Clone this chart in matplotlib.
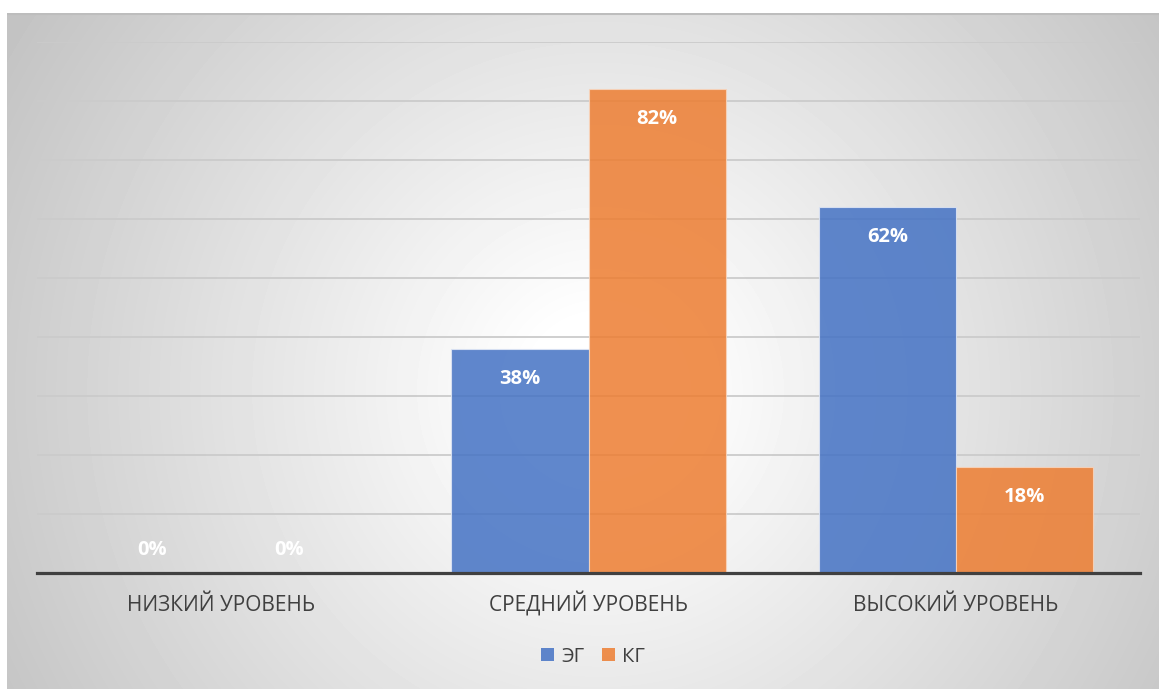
import numpy as np
import matplotlib.pyplot as plt
from matplotlib.patches import Patch

categories = ['НИЗКИЙ УРОВЕНЬ', 'СРЕДНИЙ УРОВЕНЬ', 'ВЫСОКИЙ УРОВЕНЬ']
eg = [0, 38, 62]
kg = [0, 82, 18]
series_names = ['ЭГ', 'КГ']

plt.rcParams['font.family'] = ['Open Sans', 'DejaVu Sans']

W, H, DPI = 1159, 689, 100
fig = plt.figure(figsize=(W / DPI, H / DPI), dpi=DPI)
fig.patch.set_facecolor('white')

# radial grey-to-white background of the chart area
bx0, by0 = 7, 13
bg = fig.add_axes([bx0 / W, 0, 1 - bx0 / W, 1 - by0 / H])
bw, bh = W - bx0, H - by0
yy, xx = np.mgrid[0:bh, 0:bw]
cx, cy = 600 - bx0, 390 - by0
r = np.hypot(xx - cx, yy - cy)
r0, r1 = 70, 690
shade = 1 - 0.235 * np.clip((r - r0) / (r1 - r0), 0, 1)
bg.imshow(shade, cmap='gray', vmin=0, vmax=1, aspect='auto', interpolation='bilinear')
bg.axhline(0, color='#bdbdbd', lw=1.5)
bg.set_axis_off()

ax = fig.add_axes([37 / W, (H - 573) / H, 1103 / W, 531 / H])
ax.set_facecolor('none')

x = np.arange(len(categories))
w = 0.373
b1 = ax.bar(x - w / 2, eg, w, color='#4472C4', alpha=0.85, edgecolor='#dfe6f5',
            linewidth=0.8, zorder=3, label=series_names[0])
b2 = ax.bar(x + w / 2, kg, w, color='#ED7D31', alpha=0.85, edgecolor='#f8d5bd',
            linewidth=0.8, zorder=3, label=series_names[1])

for bars, vals in ((b1, eg), (b2, kg)):
    for rect, v in zip(bars, vals):
        off = -30 if v > 5 else 23
        ax.annotate(f'{v}%', (rect.get_x() + rect.get_width() / 2, v),
                    xytext=(0, off * 72 / DPI), textcoords='offset points',
                    ha='center', va='center', color='white', fontsize=14.5,
                    fontweight='bold', zorder=5)

ax.set_xlim(-0.5, 2.5)
ax.set_ylim(0, 90)
ax.set_yticks(np.arange(10, 91, 10))
ax.yaxis.grid(True, color='#cbcbcb', lw=1.3, zorder=0)
ax.tick_params(axis='y', length=0, labelleft=False)
ax.set_xticks(x)
ax.set_xticklabels(categories, fontsize=15, color='#404040')
for lbl in ax.get_xticklabels():
    lbl.set_va('baseline')
ax.tick_params(axis='x', length=0, pad=27.5)
for s in ('top', 'right', 'left'):
    ax.spines[s].set_visible(False)
ax.spines['bottom'].set_color('#404040')
ax.spines['bottom'].set_linewidth(2.3)
ax.spines['bottom'].set_zorder(4)

handles = [Patch(facecolor='#4472C4', alpha=0.85, label=series_names[0]),
           Patch(facecolor='#ED7D31', alpha=0.85, label=series_names[1])]
fig.legend(handles=handles, loc='center', bbox_to_anchor=(593 / W, 1 - 657 / H),
           ncol=2, frameon=False, fontsize=14.5, labelcolor='#404040',
           handlelength=0.62, handleheight=0.62, handletextpad=0.35,
           columnspacing=0.9)

fig.savefig('out.png', dpi=DPI)
